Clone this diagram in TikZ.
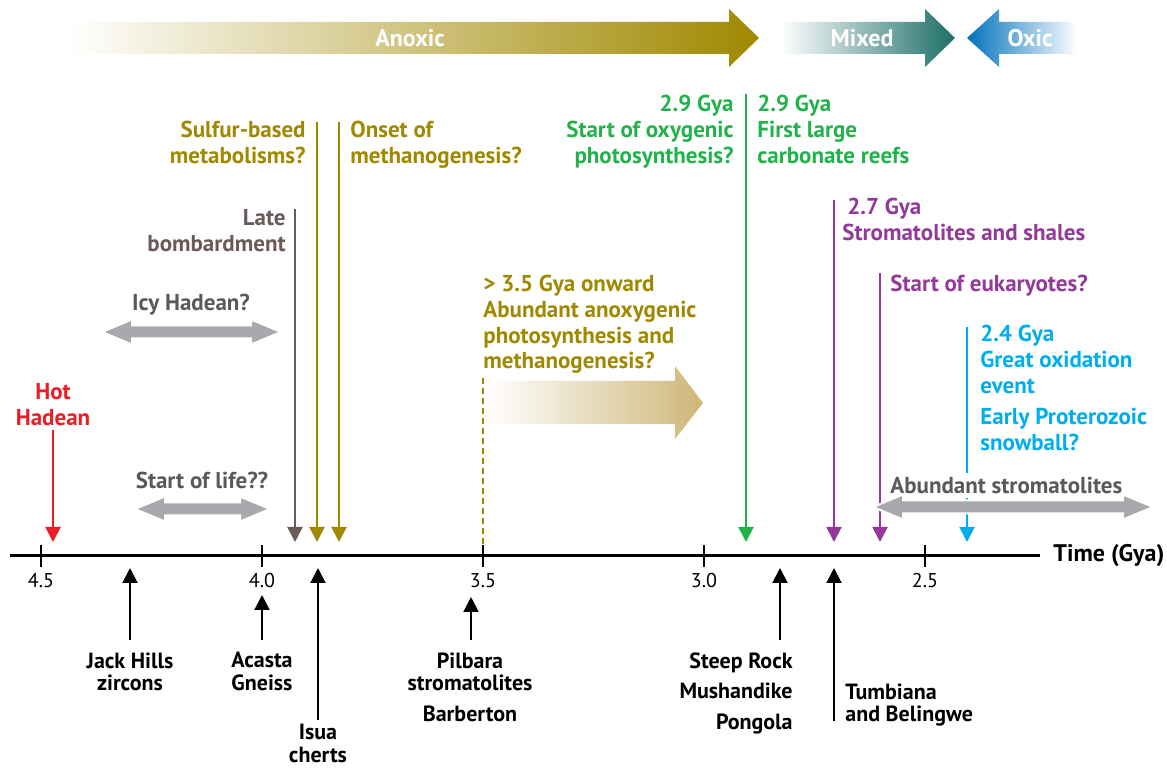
\documentclass[tikz,border=0pt]{standalone}
\usepackage{fontspec}
\setmainfont{PT Sans}
\usetikzlibrary{arrows.meta}
\definecolor{olivec}{RGB}{160,136,0}
\definecolor{anoxmid}{RGB}{204,182,110}
\definecolor{tanc}{RGB}{206,183,118}
\definecolor{greenc}{RGB}{34,178,76}
\definecolor{purplec}{RGB}{146,57,154}
\definecolor{bluec}{RGB}{0,174,239}
\definecolor{redc}{RGB}{237,28,36}
\definecolor{brownc}{RGB}{108,90,90}
\definecolor{greytext}{RGB}{88,89,91}
\definecolor{arrowgray}{RGB}{167,169,172}
\definecolor{tealc}{RGB}{30,110,104}
\definecolor{oxicblue}{RGB}{0,114,188}

\begin{document}
\begin{tikzpicture}[x=0.5pt,y=-0.5pt,>={Triangle[length=7.5pt,width=7.5pt]},
    txt/.style={inner sep=0pt,font=\fontsize{11.5}{12.8}\selectfont\bfseries},
    low/.style={inner sep=0pt,font=\fontsize{11}{11.4}\selectfont\bfseries,align=center,anchor=north},
    bartext/.style={inner sep=0pt,white,font=\fontsize{12}{13}\selectfont\bfseries},
    ticklab/.style={inner sep=0pt,font=\fontsize{10}{11}\selectfont,anchor=north},
    tickline/.style={line width=1pt}]
    \useasboundingbox (0,0) rectangle (1167,769);
    \def\grayarrow#1#2#3{\path[fill=arrowgray,draw=white,line width=1pt]
        (#1,#3) -- ({#1+30},{#3-12.5}) -- ({#1+30},{#3-6.5}) -- ({#2-30},{#3-6.5}) -- ({#2-30},{#3-12.5})
        -- (#2,#3) -- ({#2-30},{#3+12.5}) -- ({#2-30},{#3+6.5}) -- ({#1+30},{#3+6.5}) -- ({#1+30},{#3+12.5}) -- cycle;}

    % top band
    \shade[left color=white,middle color=anoxmid,right color=olivec] (67,22) -- (729,22) -- (729,9) -- (759,38) -- (729,67) -- (729,54) -- (67,54) -- cycle;
    \shade[left color=white,right color=tealc] (781,22) -- (925,22) -- (925,9) -- (955,38) -- (925,67) -- (925,54) -- (781,54) -- cycle;
    \shade[left color=oxicblue,middle color=oxicblue!70!white,right color=white] (967,38) -- (999,9) -- (999,22) -- (1077,22) -- (1077,54) -- (999,54) -- (999,67) -- cycle;
    \node[bartext] (t1) at (410,38) {Anoxic};
    \node[bartext] (t2) at (862,38) {Mixed};
    \node[bartext] (t3) at (1030,38) {Oxic};

    % time axis
    \coordinate (l1) at (10,556);
    \coordinate (l2) at (1040,556);
    \path[draw,line width=1.5pt] (l1) -- (l2);
    \node[txt,anchor=west,font=\fontsize{12}{13}\selectfont\bfseries] (t4) at (1053,556) {Time (Gya)};
    \draw[tickline] (41,545) -- (41,567);
    \draw[tickline] (262,545) -- (262,567);
    \draw[tickline] (483,545) -- (483,567);
    \draw[tickline] (704,545) -- (704,567);
    \draw[tickline] (925,545) -- (925,567);
    \node[ticklab] (k1) at (41,573) {4.5};
    \node[ticklab] (k2) at (262,573) {4.0};
    \node[ticklab] (k3) at (483,573) {3.5};
    \node[ticklab] (k4) at (704,573) {3.0};
    \node[ticklab] (k5) at (925,573) {2.5};

    % events from above
    \node[txt,redc,align=center,anchor=north] (t5) at (53,383) {Hot\\Hadean};
    \coordinate (a1) at (53,430);
    \coordinate (b1) at (53,542);
    \path[draw,->,redc,line width=1pt] (a1) -- (b1);

    \node[txt,brownc,align=right,anchor=north east] (t6) at (286,209) {Late\\bombardment};
    \coordinate (a2) at (295,209);
    \coordinate (b2) at (295,542);
    \path[draw,->,brownc,line width=1pt] (a2) -- (b2);

    \node[txt,olivec,align=right,anchor=north east] (t7) at (306,121) {Sulfur-based\\metabolisms?};
    \coordinate (a3) at (317,122);
    \coordinate (b3) at (317,542);
    \path[draw,->,olivec,line width=1pt] (a3) -- (b3);

    \node[txt,olivec,align=left,anchor=north west] (t8) at (350,121) {Onset of\\methanogenesis?};
    \coordinate (a4) at (339,122);
    \coordinate (b4) at (339,542);
    \path[draw,->,olivec,line width=1pt] (a4) -- (b4);

    \node[txt,greenc,align=right,anchor=north east] (t9) at (734,95) {2.9 Gya\\Start of oxygenic\\photosynthesis?};
    \node[txt,greenc,align=left,anchor=north west] (t10) at (757,95) {2.9 Gya\\First large\\carbonate reefs};
    \coordinate (a5) at (746,94);
    \coordinate (b5) at (746,542);
    \path[draw,->,greenc,line width=1pt] (a5) -- (b5);

    \node[txt,purplec,align=left,anchor=north west] (t11) at (842,198) {\hspace*{2.5pt}2.7 Gya\\Stromatolites and shales};
    \coordinate (a6) at (834,200);
    \coordinate (b6) at (834,542);
    \path[draw,->,purplec,line width=1pt] (a6) -- (b6);

    \node[txt,purplec,anchor=north west] (t12) at (890,275) {Start of eukaryotes?};
    \coordinate (a7) at (880,273);
    \coordinate (b7) at (880,542);
    \path[draw,->,purplec,line width=1pt] (a7) -- (b7);

    \node[txt,bluec,align=left,anchor=north west] (t13) at (980,325) {2.4 Gya\\Great oxidation\\event};
    \node[txt,bluec,align=left,anchor=north west] (t14) at (980,408) {Early Proterozoic\\snowball?};
    \coordinate (a8) at (967,327);
    \coordinate (b8) at (967,542);
    \path[draw,->,bluec,line width=1pt] (a8) -- (b8);

    % anoxygenic photosynthesis
    \node[txt,olivec,align=left,anchor=north west] (t15) at (483,275) {> 3.5 Gya onward\\Abundant anoxygenic\\photosynthesis and\\methanogenesis?};
    \coordinate (a9) at (483,378);
    \coordinate (b9) at (483,545);
    \path[draw,olivec,line width=1pt,dash pattern=on 3pt off 2pt] (a9) -- (b9);
    \shade[left color=white,right color=tanc] (485,381) -- (675,381) -- (675,366) -- (703,403) -- (675,439) -- (675,424) -- (485,424) -- cycle;

    % ranges
    \node[txt,greytext,anchor=north] (t16) at (191,294) {Icy Hadean?};
    \grayarrow{102}{281}{332}
    \node[txt,greytext,anchor=north] (t17) at (202,472) {Start of life??};
    \grayarrow{135}{270}{509}
    \node[txt,greytext,anchor=north west,fill=white,inner ysep=2pt] (t18) at (890,473) {Abundant stromatolites};
    \grayarrow{873}{1153}{507}

    % localities from below
    \node[low] (t19) at (130,652) {Jack Hills\\zircons};
    \coordinate (c1) at (130,640);
    \coordinate (d1) at (130,568);
    \path[draw,->,line width=1pt] (c1) -- (d1);

    \node[low] (t20) at (262,652) {Acasta\\Gneiss};
    \coordinate (c2) at (262,640);
    \coordinate (d2) at (262,595);
    \path[draw,->,line width=1pt] (c2) -- (d2);

    \node[low] (t21) at (318,724) {Isua\\cherts};
    \coordinate (c3) at (318,720);
    \coordinate (d3) at (318,568);
    \path[draw,->,line width=1pt] (c3) -- (d3);

    \node[low] (t22) at (470,652) {Pilbara\\stromatolites\\[4pt]Barberton};
    \coordinate (c4) at (471,640);
    \coordinate (d4) at (471,597);
    \path[draw,->,line width=1pt] (c4) -- (d4);

    \node[low,align=right,anchor=north east] (t23) at (793,652) {Steep Rock\\[4pt]Mushandike\\[4pt]Pongola};
    \coordinate (c5) at (780,640);
    \coordinate (d5) at (780,568);
    \path[draw,->,line width=1pt] (c5) -- (d5);

    \node[low,align=left,anchor=north west] (t24) at (845,683) {Tumbiana\\and Belingwe};
    \coordinate (c6) at (834,721);
    \coordinate (d6) at (834,568);
    \path[draw,->,line width=1pt] (c6) -- (d6);
\end{tikzpicture}
\end{document}
